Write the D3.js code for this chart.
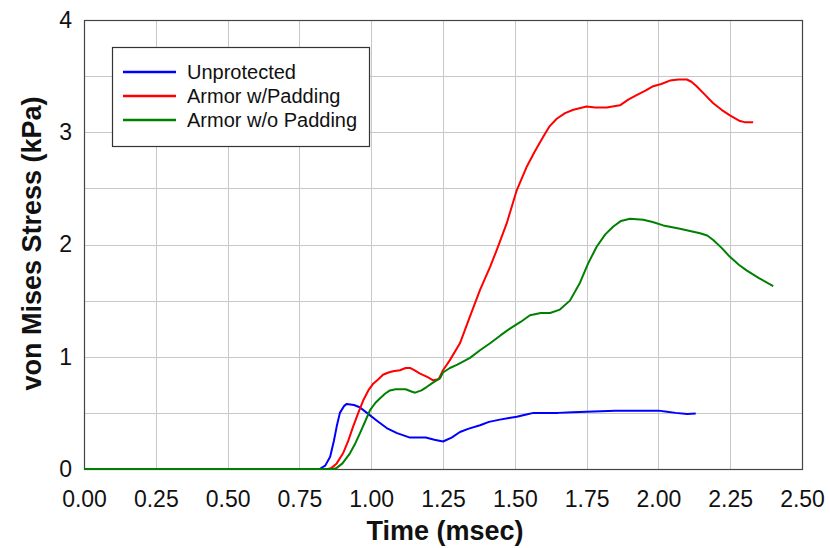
<!DOCTYPE html>
<html>
<head>
<meta charset="utf-8">
<script src="https://cdn.jsdelivr.net/npm/d3@7"></script>
<style>
  html, body { margin: 0; padding: 0; background: #fff; }
  svg { display: block; font-family: Arial, "Liberation Sans", sans-serif; }
</style>
</head>
<body>
<svg id="chart" width="830" height="548"></svg>
<script>
// Time axis (msec) and stress axis (kPa)
const xTicks = [0, 0.25, 0.5, 0.75, 1.0, 1.25, 1.5, 1.75, 2.0, 2.25, 2.5];
const yTicks = [0, 1, 2, 3, 4];
const yGrid = [0, 0.5, 1, 1.5, 2, 2.5, 3, 3.5, 4];

const seriesNames = ["Unprotected", "Armor w/Padding", "Armor w/o Padding"];
const seriesColors = ["#0000FF", "#FF0000", "#008000"];

// Unprotected
const timeUnprotected = [0, 0.82, 0.84, 0.857, 0.87, 0.88, 0.891, 0.905, 0.915, 0.94, 0.96, 0.985,
  1.02, 1.054, 1.09, 1.135, 1.19, 1.22, 1.25, 1.28, 1.309, 1.34, 1.379, 1.41, 1.448, 1.48, 1.507,
  1.54, 1.565, 1.6, 1.65, 1.7, 1.75, 1.8, 1.85, 1.9, 1.95, 2.0, 2.03, 2.06, 2.1, 2.13];
const stressUnprotected = [0, 0, 0.03, 0.11, 0.25, 0.38, 0.5, 0.56, 0.58, 0.57, 0.55, 0.5,
  0.43, 0.365, 0.32, 0.28, 0.28, 0.26, 0.245, 0.28, 0.33, 0.36, 0.39, 0.42, 0.44, 0.455, 0.466,
  0.485, 0.5, 0.5, 0.5, 0.505, 0.51, 0.515, 0.52, 0.52, 0.52, 0.52, 0.51, 0.5, 0.49, 0.495];

// Armor with padding
const timePadded = [0, 0.85, 0.862, 0.88, 0.902, 0.92, 0.937, 0.955, 0.972, 0.99, 1.007, 1.025,
  1.041, 1.06, 1.076, 1.1, 1.12, 1.135, 1.15, 1.17, 1.195, 1.216, 1.235, 1.25, 1.274, 1.309,
  1.344, 1.379, 1.414, 1.437, 1.472, 1.507, 1.541, 1.57, 1.599, 1.62, 1.646, 1.675, 1.704, 1.75,
  1.78, 1.82, 1.866, 1.895, 1.924, 1.955, 1.982, 2.01, 2.04, 2.07, 2.099, 2.115, 2.133, 2.16,
  2.19, 2.22, 2.249, 2.284, 2.3, 2.33];
const stressPadded = [0, 0, 0.01, 0.05, 0.14, 0.25, 0.377, 0.5, 0.61, 0.7, 0.76, 0.8,
  0.84, 0.86, 0.87, 0.88, 0.9, 0.9, 0.88, 0.85, 0.82, 0.79, 0.8, 0.88, 0.97, 1.12,
  1.36, 1.595, 1.8, 1.95, 2.19, 2.485, 2.69, 2.83, 2.96, 3.05, 3.12, 3.17, 3.2, 3.23,
  3.22, 3.22, 3.24, 3.29, 3.33, 3.37, 3.41, 3.43, 3.46, 3.47, 3.47, 3.45, 3.41, 3.34,
  3.26, 3.2, 3.15, 3.1, 3.09, 3.09];

// Armor without padding
const timeUnpadded = [0, 0.87, 0.88, 0.9, 0.926, 0.945, 0.961, 0.98, 0.996, 1.015, 1.031, 1.048,
  1.065, 1.085, 1.1, 1.12, 1.14, 1.153, 1.175, 1.193, 1.215, 1.24, 1.25, 1.274, 1.3, 1.344,
  1.38, 1.414, 1.45, 1.483, 1.52, 1.553, 1.59, 1.623, 1.657, 1.692, 1.727, 1.755, 1.785, 1.815,
  1.843, 1.87, 1.901, 1.947, 1.98, 2.017, 2.075, 2.145, 2.17, 2.191, 2.22, 2.249, 2.28, 2.307,
  2.35, 2.4];
const stressUnpadded = [0, 0, 0.01, 0.05, 0.14, 0.23, 0.32, 0.43, 0.525, 0.59, 0.63, 0.67,
  0.7, 0.71, 0.71, 0.71, 0.69, 0.68, 0.7, 0.73, 0.77, 0.81, 0.86, 0.9, 0.93, 0.99,
  1.06, 1.12, 1.19, 1.25, 1.31, 1.37, 1.39, 1.39, 1.42, 1.5, 1.66, 1.83, 1.98, 2.09,
  2.16, 2.21, 2.23, 2.22, 2.2, 2.17, 2.14, 2.1, 2.08, 2.04, 1.97, 1.89, 1.82, 1.77,
  1.7, 1.63];

const seriesTimes = [timeUnprotected, timePadded, timeUnpadded];
const seriesStress = [stressUnprotected, stressPadded, stressUnpadded];

const svg = d3.select("#chart");
const plot = { left: 84, right: 802, top: 20, bottom: 469 };

const x = d3.scaleLinear().domain([0, 2.5]).range([plot.left, plot.right]);
const y = d3.scaleLinear().domain([0, 4]).range([plot.bottom, plot.top]);

// grid
const grid = svg.append("g").attr("stroke", "#c8c8c8").attr("stroke-width", 1);
grid.selectAll("line.v").data(xTicks.slice(1, -1)).join("line")
  .attr("x1", d => Math.round(x(d)) + 0.5).attr("x2", d => Math.round(x(d)) + 0.5)
  .attr("y1", plot.top).attr("y2", plot.bottom);
grid.selectAll("line.h").data(yGrid.slice(1, -1)).join("line")
  .attr("y1", d => Math.round(y(d)) + 0.5).attr("y2", d => Math.round(y(d)) + 0.5)
  .attr("x1", plot.left).attr("x2", plot.right);

// frame
svg.append("rect")
  .attr("x", plot.left + 0.5).attr("y", plot.top + 0.5)
  .attr("width", plot.right - plot.left).attr("height", plot.bottom - plot.top)
  .attr("fill", "none").attr("stroke", "#444").attr("stroke-width", 1.2);

// axes (labels only)
const xAxis = d3.axisBottom(x).tickValues(xTicks).tickFormat(d3.format(".2f")).tickSize(0).tickPadding(22);
const gx = svg.append("g").attr("transform", `translate(0,${plot.bottom})`).call(xAxis);
gx.select(".domain").remove();
gx.selectAll("text").attr("font-size", 23).attr("fill", "#111").attr("font-family", "Arial, 'Liberation Sans', sans-serif");

const yAxis = d3.axisLeft(y).tickValues(yTicks).tickFormat(d3.format("d")).tickSize(0).tickPadding(12);
const gy = svg.append("g").attr("transform", `translate(${plot.left},0)`).call(yAxis);
gy.select(".domain").remove();
gy.selectAll("text").attr("font-size", 23).attr("fill", "#111").attr("font-family", "Arial, 'Liberation Sans', sans-serif");

// series
const line = d3.line().x(d => x(d[0])).y(d => y(d[1]));
seriesNames.forEach((name, i) => {
  const pts = d3.zip(seriesTimes[i], seriesStress[i]);
  svg.append("path").datum(pts)
    .attr("d", line)
    .attr("fill", "none")
    .attr("stroke", seriesColors[i])
    .attr("stroke-width", 2)
    .attr("stroke-linejoin", "round");
});

// axis titles
svg.append("text")
  .attr("x", (plot.left + plot.right) / 2 + 2).attr("y", 540)
  .attr("text-anchor", "middle").attr("font-size", 27).attr("font-weight", "bold").attr("fill", "#111")
  .text("Time (msec)");
svg.append("text")
  .attr("transform", `translate(41,${(plot.top + plot.bottom) / 2 - 1}) rotate(-90)`)
  .attr("text-anchor", "middle").attr("font-size", 27).attr("font-weight", "bold").attr("fill", "#111")
  .text("von Mises Stress (kPa)");

// legend
const legend = svg.append("g");
legend.append("rect")
  .attr("x", 112.5).attr("y", 47.5).attr("width", 257).attr("height", 99)
  .attr("fill", "#fff").attr("stroke", "#333").attr("stroke-width", 1.2);
seriesNames.forEach((name, i) => {
  const ly = 72 + i * 24;
  legend.append("line")
    .attr("x1", 123).attr("x2", 176).attr("y1", ly).attr("y2", ly)
    .attr("stroke", seriesColors[i]).attr("stroke-width", 2.5);
  legend.append("text")
    .attr("x", 187).attr("y", ly).attr("dy", "0.35em")
    .attr("font-size", 20).attr("fill", "#111")
    .text(name);
});
</script>
</body>
</html>
